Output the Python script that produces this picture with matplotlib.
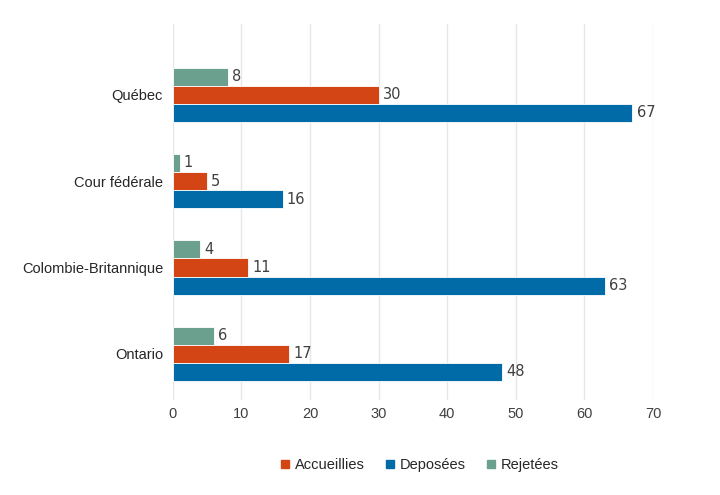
import matplotlib.pyplot as plt
from matplotlib.lines import Line2D
import numpy as np

plt.rcParams['font.family'] = ['Liberation Sans', 'DejaVu Sans']

provinces = ["Ontario", "Colombie-Britannique", "Cour fédérale", "Québec"]
accueillies = [17, 11, 5, 30]
deposees = [48, 63, 16, 67]
rejetees = [6, 4, 1, 8]

series = [
    ("Rejetées", rejetees, "#6B9F8E", 0.209),
    ("Accueillies", accueillies, "#D44516", 0.0),
    ("Deposées", deposees, "#016BA8", -0.209),
]

fig = plt.figure(figsize=(7.2, 4.95), dpi=100)
ax = fig.add_axes([0.240, 0.192, 0.667, 0.760])

y = np.arange(len(provinces))
h = 0.209
for name, vals, color, off in series:
    bars = ax.barh(y + off, vals, height=h, color=color, edgecolor="white",
                   linewidth=0.6, zorder=3)
    for b, v in zip(bars, vals):
        ax.text(v + 0.6, b.get_y() + h / 2, str(v), va="center", ha="left",
                fontsize=10.5, color="#404040", family="DejaVu Sans")

ax.set_xlim(0, 70)
ax.set_ylim(-0.533, 3.82)
ax.set_xticks(range(0, 71, 10))
ax.set_yticks(y)
ax.set_yticklabels(provinces)
ax.grid(axis="x", color="#e6e6e6", linewidth=1, zorder=0)
for s in ax.spines.values():
    s.set_visible(False)
ax.tick_params(axis="y", length=0, pad=7, labelsize=10.5, labelcolor="#262626")
ax.tick_params(axis="x", length=0, pad=5, labelsize=10.5, labelcolor="#404040")

handles = [Line2D([], [], marker="s", linestyle="", markersize=6,
                  color=c, label=n)
           for n, c in [("Accueillies", "#D44516"), ("Deposées", "#016BA8"),
                        ("Rejetées", "#6B9F8E")]]
fig.legend(handles=handles, loc="center", bbox_to_anchor=(0.58, 0.061), ncol=3,
           frameon=False, fontsize=10.5, handletextpad=0.1, columnspacing=1.1,
           handlelength=1.2, labelcolor="#262626")

fig.savefig("out.png", dpi=100)
